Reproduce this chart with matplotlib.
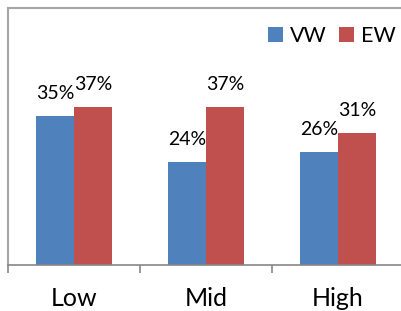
import matplotlib
matplotlib.use("Agg")
import matplotlib.pyplot as plt
import numpy as np

categories = ["Low", "Mid", "High"]
series_names = ["VW", "EW"]
vw = [0.348, 0.241, 0.264]
ew = [0.370, 0.369, 0.308]
colors = ["#4F81BD", "#C0504D"]

plt.rcParams['font.family'] = ['Lato', 'DejaVu Sans']

W, H = 401, 311
fig = plt.figure(figsize=(W / 100, H / 100), dpi=100)
ax = fig.add_axes([8 / W, 46 / H, 396 / W, 257 / H])

x = np.arange(len(categories))
bw = 0.286
b1 = ax.bar(x - bw / 2, vw, bw, color=colors[0], label=series_names[0])
b2 = ax.bar(x + bw / 2, ew, bw, color=colors[1], label=series_names[1])

for bars, vals in ((b1, vw), (b2, ew)):
    for rect, v in zip(bars, vals):
        ax.annotate(f"{v:.0%}", (rect.get_x() + rect.get_width() / 2, v),
                    xytext=(0, 16), textcoords="offset points",
                    ha="center", va="center", fontsize=14, color="#000000")

ax.set_xlim(-0.5, 2.5)
ax.set_ylim(0, 0.6)
ax.set_yticks([])
ax.set_xticks(x)
ax.set_xticklabels(categories, fontsize=18)
ax.set_xticks([-0.5, 0.5, 1.5, 2.5], minor=True)
ax.tick_params(axis="x", which="major", length=0, pad=16)
ax.tick_params(axis="x", which="minor", length=5.8, width=1.2, color="#868686", direction="out")

for s in ("left", "top"):
    ax.spines[s].set_color("#a6a6a6")
    ax.spines[s].set_linewidth(1.5)
ax.spines["right"].set_visible(False)
ax.spines["bottom"].set_color("#868686")
ax.spines["bottom"].set_linewidth(1.2)

fig.legend(handles=[b1, b2], labels=series_names, loc="center left",
           bbox_to_anchor=(268 / W, 1 - 36 / H), bbox_transform=fig.transFigure,
           ncol=2, frameon=False, fontsize=15.5, borderpad=0, borderaxespad=0,
           handlelength=0.7, handleheight=0.7, handletextpad=0.3, columnspacing=0.6)

fig.savefig("out.png", dpi=100)
